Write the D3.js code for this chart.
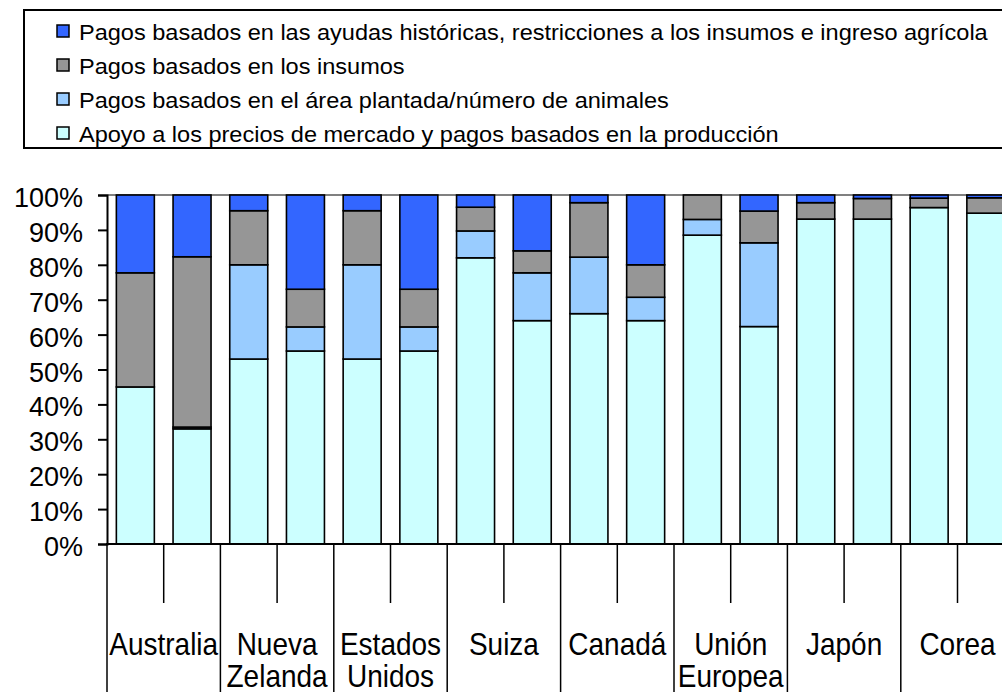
<!DOCTYPE html>
<html>
<head>
<meta charset="utf-8">
<script src="https://cdn.jsdelivr.net/npm/d3@7"></script>
<style>
  body { margin: 0; background: #fff; }
  svg { display: block; font-family: "Liberation Sans", Arial, sans-serif; }
</style>
</head>
<body>
<script>
var width = 1002;
var height = 692;

// countries, each one has two bars
var countries = ['Australia', 'Nueva Zelanda', 'Estados Unidos', 'Suiza', 'Canadá', 'Unión Europea', 'Japón', 'Corea'];
var countryLines = [['Australia'], ['Nueva', 'Zelanda'], ['Estados', 'Unidos'], ['Suiza'], ['Canadá'], ['Unión', 'Europea'], ['Japón'], ['Corea']];

var seriesNames = [
  'Apoyo a los precios de mercado y pagos basados en la producción',
  'Pagos basados en el área plantada/número de animales',
  'Pagos basados en los insumos',
  'Pagos basados en las ayudas históricas, restricciones a los insumos e ingreso agrícola'
];
var seriesColors = ['#CCFFFF', '#99CCFF', '#969696', '#3366FF'];

// percent shares, two bars per country
var apoyo    = [45, 33, 53, 55.3, 53, 55.3, 82, 64, 66, 64, 88.5, 62.3, 93.1, 93.1, 96.4, 94.8];
var area     = [0, 0.5, 27, 6.9, 27, 6.9, 7.7, 13.7, 16.2, 6.7, 4.5, 24, 0, 0, 0, 0];
var insumos  = [32.7, 48.8, 15.5, 10.8, 15.5, 10.8, 6.8, 6.3, 15.6, 9.3, 7, 9.1, 4.7, 5.9, 2.7, 4.4];
var historic = [22.3, 17.7, 4.5, 27, 4.5, 27, 3.5, 16, 2.2, 20, 0, 4.6, 2.2, 1, 0.9, 0.8];

var yTicks = [0, 10, 20, 30, 40, 50, 60, 70, 80, 90, 100];

var x0 = 107;
var groupW = 113.4;
var yTop = 195;
var yBase = 544;

var rows = apoyo.map(function (v, i) {
  return { idx: i, country: countries[Math.floor(i / 2)], sub: i % 2, s0: v, s1: area[i], s2: insumos[i], s3: historic[i] };
});

var svg = d3.select('body').append('svg')
  .attr('width', width)
  .attr('height', height);

var x = d3.scaleBand()
  .domain(countries)
  .range([x0, x0 + groupW * countries.length]);

var xSub = d3.scaleBand()
  .domain([0, 1])
  .range([0, x.bandwidth()])
  .paddingInner(0.33)
  .paddingOuter(0.165);

var y = d3.scaleLinear()
  .domain([0, 100])
  .range([yBase, yTop]);

// gray top border of plot area
svg.append('line')
  .attr('x1', x0).attr('x2', width)
  .attr('y1', y(100)).attr('y2', y(100))
  .attr('stroke', '#808080')
  .attr('stroke-width', 2);

var stack = d3.stack().keys(['s0', 's1', 's2', 's3']);
var layers = stack(rows);

svg.append('g').selectAll('g')
  .data(layers)
  .join('g')
  .attr('fill', function (d, i) { return seriesColors[i]; })
  .selectAll('rect')
  .data(function (d) { return d; })
  .join('rect')
  .attr('x', function (d) { return x(d.data.country) + xSub(d.data.sub); })
  .attr('width', xSub.bandwidth())
  .attr('y', function (d) { return y(d[1]); })
  .attr('height', function (d) { return y(d[0]) - y(d[1]); })
  .attr('stroke', '#000')
  .attr('stroke-width', 1.6);

// y axis
var yAxis = svg.append('g')
  .attr('transform', 'translate(' + x0 + ',0)')
  .call(d3.axisLeft(y).tickValues(yTicks).tickSize(9).tickFormat(function (d) { return d + '%'; }));
yAxis.select('.domain').attr('stroke', '#000').attr('stroke-width', 2);
yAxis.selectAll('.tick line').attr('stroke', '#000').attr('stroke-width', 2);
yAxis.selectAll('.tick text')
  .attr('x', -24)
  .attr('dy', null)
  .attr('y', 11.5)
  .attr('fill', '#000')
  .style('font-size', '27px')
  .style('font-family', '"Liberation Sans", Arial, sans-serif');

// baseline
svg.append('line')
  .attr('x1', x0 - 1).attr('x2', width)
  .attr('y1', yBase).attr('y2', yBase)
  .attr('stroke', '#000')
  .attr('stroke-width', 2);

// category dividers and mid ticks
var cat = svg.append('g');
d3.range(countries.length + 1).forEach(function (i) {
  var xx = x0 + i * x.step();
  cat.append('line')
    .attr('x1', xx).attr('x2', xx)
    .attr('y1', yBase).attr('y2', height)
    .attr('stroke', '#000').attr('stroke-width', 1.5);
});
countries.forEach(function (c) {
  var xm = x(c) + x.bandwidth() / 2;
  cat.append('line')
    .attr('x1', xm).attr('x2', xm)
    .attr('y1', yBase).attr('y2', 603)
    .attr('stroke', '#000').attr('stroke-width', 1.5);
});

countries.forEach(function (c, i) {
  var xm = x(c) + x.bandwidth() / 2;
  var t = cat.append('text')
    .attr('transform', 'translate(' + xm + ',655) scale(1,1.12)')
    .attr('text-anchor', 'middle')
    .style('font-size', '28px')
    .attr('fill', '#000');
  countryLines[i].forEach(function (line, j) {
    t.append('tspan')
      .attr('x', 0)
      .attr('y', j * 29)
      .text(line);
  });
});

// legend
var legend = svg.append('g');
legend.append('rect')
  .attr('x', 24).attr('y', 10)
  .attr('width', 1100).attr('height', 138)
  .attr('fill', 'none')
  .attr('stroke', '#000')
  .attr('stroke-width', 2);

var legendOrder = [3, 2, 1, 0];
legendOrder.forEach(function (s, i) {
  var ly = 40 + i * 34;
  legend.append('rect')
    .attr('x', 57).attr('y', ly - 15)
    .attr('width', 12).attr('height', 12)
    .attr('fill', seriesColors[s])
    .attr('stroke', '#000')
    .attr('stroke-width', 1.5);
  legend.append('text')
    .attr('transform', 'translate(79,' + ly + ') scale(1.07,1)')
    .style('font-size', '22px')
    .attr('fill', '#000')
    .text(seriesNames[s]);
});
</script>
</body>
</html>
